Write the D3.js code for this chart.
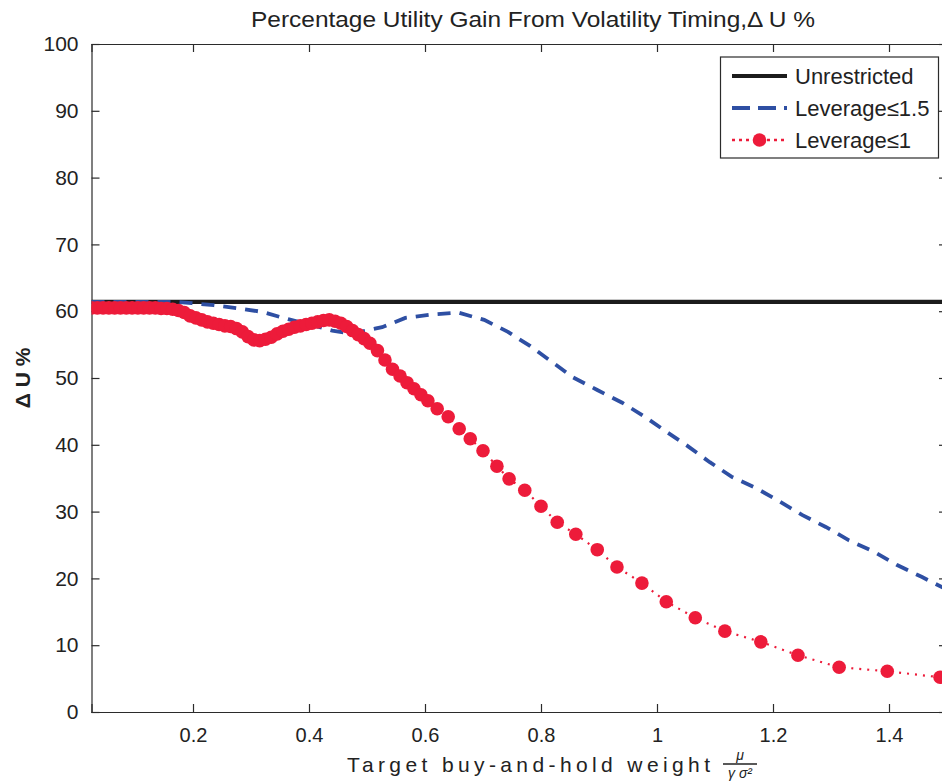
<!DOCTYPE html>
<html>
<head>
<meta charset="utf-8">
<script src="https://cdn.jsdelivr.net/npm/d3@7/dist/d3.min.js"></script>
<style>
  html, body { margin: 0; padding: 0; background: #fff; }
  svg { display: block; }
  text { font-family: "Liberation Sans", Arial, sans-serif; fill: #222; }
</style>
</head>
<body>
<svg id="chart" width="942" height="783"></svg>
<script>
// ---------------- data ----------------
const xTicks = [0.2, 0.4, 0.6, 0.8, 1.0, 1.2, 1.4];
const xTickLabels = ["0.2", "0.4", "0.6", "0.8", "1", "1.2", "1.4"];
const yTicks = [0, 10, 20, 30, 40, 50, 60, 70, 80, 90, 100];
const yTickLabels = ["0", "10", "20", "30", "40", "50", "60", "70", "80", "90", "100"];
const seriesNames = ["Unrestricted", "Leverage\u22641.5", "Leverage\u22641"];

// Unrestricted (flat)
const unrestrictedX = [0.025, 1.5];
const unrestrictedY = [61.4, 61.4];

// Leverage <= 1.5
const lev15X = [0.025, 0.10, 0.169, 0.198, 0.236, 0.281, 0.319, 0.364, 0.402, 0.440, 0.467, 0.488,
  0.526, 0.566, 0.610, 0.657, 0.702, 0.743, 0.781, 0.819, 0.855, 0.897, 0.940, 0.979, 1.017,
  1.053, 1.091, 1.129, 1.171, 1.210, 1.250, 1.291, 1.331, 1.374, 1.414, 1.457, 1.500];
const lev15Y = [61.4, 61.4, 61.4, 61.2, 60.9, 60.4, 59.9, 58.8, 58.0, 57.1, 56.7, 56.9,
  57.6, 59.0, 59.5, 59.8, 58.7, 56.9, 54.8, 52.4, 50.1, 48.2, 46.3, 44.2, 41.9,
  39.8, 37.4, 35.2, 33.5, 31.6, 29.5, 27.7, 25.7, 24.0, 22.0, 20.2, 18.3];

// Leverage <= 1
const lev1X = [0.025, 0.035, 0.045, 0.055, 0.065, 0.075, 0.085, 0.095, 0.105, 0.115, 0.125, 0.135,
  0.145, 0.155, 0.165, 0.175, 0.185, 0.195, 0.205, 0.215, 0.225, 0.235, 0.245, 0.255, 0.265,
  0.275, 0.285, 0.295, 0.305, 0.315, 0.325, 0.335, 0.345, 0.355, 0.365, 0.375, 0.385, 0.395,
  0.405, 0.415, 0.425, 0.435, 0.445, 0.455, 0.465, 0.475, 0.485, 0.495, 0.505, 0.518, 0.531,
  0.544, 0.557, 0.569, 0.581, 0.593, 0.605, 0.621, 0.640, 0.659, 0.678, 0.700, 0.724, 0.745,
  0.772, 0.800, 0.828, 0.860, 0.897, 0.931, 0.974, 1.016, 1.066, 1.117, 1.179, 1.243, 1.314,
  1.397, 1.488];
const lev1Y = [60.5, 60.5, 60.5, 60.5, 60.5, 60.5, 60.5, 60.5, 60.5, 60.5, 60.5, 60.5,
  60.4, 60.4, 60.3, 60.1, 59.8, 59.3, 59.0, 58.7, 58.4, 58.2, 58.0, 57.8, 57.7,
  57.4, 56.9, 56.2, 55.7, 55.6, 55.8, 56.1, 56.6, 57.0, 57.3, 57.6, 57.8, 58.0,
  58.2, 58.4, 58.6, 58.7, 58.5, 58.2, 57.7, 57.1, 56.5, 55.9, 55.2, 54.1, 52.7,
  51.3, 50.3, 49.3, 48.4, 47.5, 46.6, 45.4, 44.2, 42.4, 40.9, 39.1, 36.8, 34.9,
  33.2, 30.8, 28.4, 26.6, 24.3, 21.7, 19.3, 16.5, 14.1, 12.1, 10.5, 8.5, 6.7,
  6.1, 5.2];

// ---------------- chart ----------------
const svg = d3.select("#chart");
const W = 942, H = 783;
svg.append("rect").attr("width", W).attr("height", H).attr("fill", "#fff");

const x = d3.scaleLinear().domain([0.025, 1.5]).range([91.5, 947]);
const y = d3.scaleLinear().domain([0, 100]).range([712, 44]);

const axisColor = "#2b2b2b";
const red = "#ED1B3A", blue = "#2E4FA3", black = "#1c1c1c";

svg.append("clipPath").attr("id", "clip")
  .append("rect").attr("x", x.range()[0]).attr("y", 40)
  .attr("width", x.range()[1] - x.range()[0]).attr("height", 680);

// axes (ticks inward, MATLAB style)
const gx = svg.append("g").attr("transform", `translate(0,${y(0)})`)
  .call(d3.axisBottom(x).tickValues(xTicks).tickFormat((d, i) => xTickLabels[i]).tickSize(-8).tickPadding(16));
const gxTop = svg.append("g").attr("transform", `translate(0,${y(100)})`)
  .call(d3.axisTop(x).tickValues(xTicks).tickFormat("").tickSize(-8));
const gy = svg.append("g").attr("transform", `translate(${x.range()[0]},0)`)
  .call(d3.axisLeft(y).tickValues(yTicks).tickFormat((d, i) => yTickLabels[i]).tickSize(-8).tickPadding(13));
const gyRight = svg.append("g").attr("transform", `translate(${x.range()[1]},0)`)
  .call(d3.axisRight(y).tickValues(yTicks).tickFormat("").tickSize(-8));

[gx, gxTop, gy, gyRight].forEach(g => {
  g.selectAll("path").attr("stroke", axisColor).attr("stroke-width", 1.2);
  g.selectAll("line").attr("stroke", axisColor).attr("stroke-width", 1.2);
  g.selectAll("text").attr("font-size", 20).attr("fill", "#222")
    .attr("font-family", "'Liberation Sans', Arial, sans-serif");
});
gy.selectAll("text").attr("font-size", 21);

const plot = svg.append("g").attr("clip-path", "url(#clip)");

const line = d3.line().x(d => x(d[0])).y(d => y(d[1]));

// Unrestricted
plot.append("path")
  .datum(d3.zip(unrestrictedX, unrestrictedY))
  .attr("d", line).attr("fill", "none").attr("stroke", black).attr("stroke-width", 4.2);

// Leverage <= 1.5
plot.append("path")
  .datum(d3.zip(lev15X, lev15Y))
  .attr("d", line).attr("fill", "none").attr("stroke", blue)
  .attr("stroke-width", 3.8).attr("stroke-dasharray", "13,9");

// Leverage <= 1
const lev1 = d3.zip(lev1X, lev1Y);
plot.append("path")
  .datum(lev1)
  .attr("d", line).attr("fill", "none").attr("stroke", red)
  .attr("stroke-width", 2.2).attr("stroke-dasharray", "2,6");
plot.selectAll("circle.m").data(lev1).enter().append("circle")
  .attr("class", "m")
  .attr("cx", d => x(d[0])).attr("cy", d => y(d[1])).attr("r", 6.8)
  .attr("fill", red);

// Title
svg.append("text").attr("x", 533).attr("y", 27).attr("text-anchor", "middle")
  .attr("font-size", 22).attr("textLength", 564).attr("lengthAdjust", "spacingAndGlyphs")
  .text("Percentage Utility Gain From Volatility Timing,\u0394 U %");

// Y label
svg.append("text").attr("transform", `translate(30,${(y(0) + y(100)) / 2}) rotate(-90)`)
  .attr("text-anchor", "middle").attr("font-size", 21).attr("font-weight", "bold")
  .text("\u0394 U %");

// X label (serif, Computer Modern-like)
svg.append("text").attr("x", 347).attr("y", 772)
  .attr("font-family", "'Liberation Serif', 'DejaVu Serif', serif").attr("font-size", 21)
  .attr("textLength", 363).attr("lengthAdjust", "spacing")
  .text("Target buy-and-hold weight");
const fx = 740;
svg.append("text").attr("x", fx).attr("y", 760).attr("text-anchor", "middle")
  .attr("font-family", "'Liberation Serif', 'DejaVu Serif', serif").attr("font-style", "italic")
  .attr("font-size", 14).text("\u03BC");
svg.append("line").attr("x1", fx - 17).attr("x2", fx + 17).attr("y1", 764).attr("y2", 764)
  .attr("stroke", "#222").attr("stroke-width", 1.3);
svg.append("text").attr("x", fx).attr("y", 778).attr("text-anchor", "middle")
  .attr("font-family", "'Liberation Serif', 'DejaVu Serif', serif").attr("font-style", "italic")
  .attr("font-size", 14).text("\u03B3 \u03C3\u00B2");

// Legend
const lg = svg.append("g");
lg.append("rect").attr("x", 720.5).attr("y", 57).attr("width", 218).attr("height", 101)
  .attr("fill", "#fff").attr("stroke", axisColor).attr("stroke-width", 1.2);
const rowsY = [76, 108, 140];
const lx1 = 732, lx2 = 787;
lg.append("line").attr("x1", lx1).attr("x2", lx2).attr("y1", rowsY[0]).attr("y2", rowsY[0])
  .attr("stroke", black).attr("stroke-width", 4.2);
lg.append("line").attr("x1", lx1).attr("x2", lx2).attr("y1", rowsY[1]).attr("y2", rowsY[1])
  .attr("stroke", blue).attr("stroke-width", 3.8).attr("stroke-dasharray", "18,8");
lg.append("line").attr("x1", lx1).attr("x2", lx2).attr("y1", rowsY[2]).attr("y2", rowsY[2])
  .attr("stroke", red).attr("stroke-width", 2.4).attr("stroke-dasharray", "3,4");
lg.append("circle").attr("cx", (lx1 + lx2) / 2).attr("cy", rowsY[2]).attr("r", 6.8).attr("fill", red);
seriesNames.forEach((n, i) => {
  lg.append("text").attr("x", 795).attr("y", rowsY[i] + 8).attr("font-size", 22).text(n);
});
</script>
</body>
</html>
